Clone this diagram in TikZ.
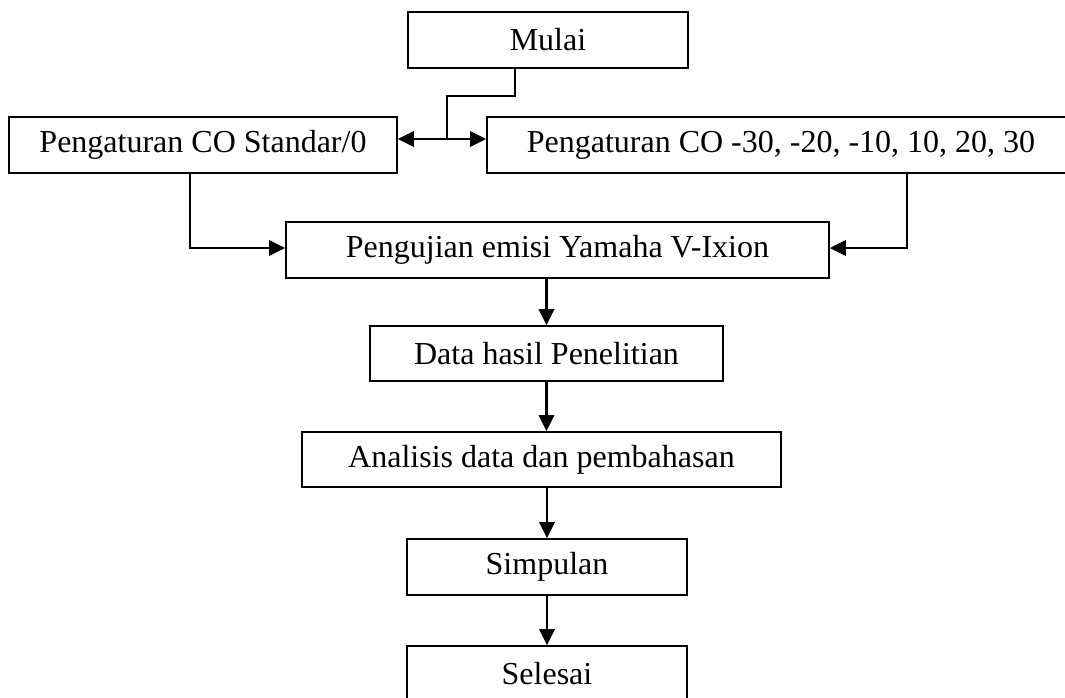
\documentclass[tikz,border=0pt]{standalone}
\usepackage{fontspec}
\setmainfont{Liberation Serif}
\usetikzlibrary{arrows.meta}

\begin{document}
\begin{tikzpicture}[x=0.75pt, y=-0.75pt,
        kotak/.style={draw, line width=1.3pt, rectangle, inner sep=0pt,
            minimum height=42pt, font=\fontsize{24}{28}\selectfont},
        panah/.style={line width=2pt, -{Triangle[length=12pt,width=11.5pt]}}]
                \clip (0,0) rectangle (1065,697);
                \node[kotak, minimum width=210pt] (mulai) at (548,40) {Mulai};
                \node[kotak, minimum width=291pt] (standar) at (203,145) {Pengaturan CO Standar/0};
                \node[kotak, minimum width=441pt] (variasi) at (781,145) {Pengaturan CO -30, -20, -10, 10, 20, 30};
                \node[kotak, minimum width=407.25pt] (uji) at (557.5,250) {Pengujian emisi Yamaha V-Ixion};
                \node[kotak, minimum width=264.75pt, minimum height=41.25pt] (data) at (546.5,353.5) {Data hasil Penelitian};
                \node[kotak, minimum width=359.25pt, minimum height=41.25pt] (analisis) at (541.5,459.5) {Analisis data dan pembahasan};
                \node[kotak, minimum width=210pt] (simpulan) at (547,567) {Simpulan};
                \node[kotak, minimum width=210pt] (selesai) at (547,674) {Selesai};
                \coordinate (cabang) at (447,139);
                \draw[line width=1.5pt] ([xshift=-24.75pt]mulai.south) -- ++(0,27) -| (cabang);
                \draw[line width=2pt, {Triangle[length=12pt,width=11.5pt]}-{Triangle[length=12pt,width=11.5pt]}]
                    (standar.east |- cabang) -- (variasi.west |- cabang);
                \draw[panah] ([xshift=-9.75pt]standar.south) |- ([yshift=1.5pt]uji.west);
                \draw[panah] ([xshift=94.5pt]variasi.south) |- ([yshift=1.5pt]uji.east);
                \draw[panah] (uji.south -| data.north) -- (data.north);
                \draw[panah] (data.south) -- (data.south |- analisis.north);
                \draw[panah] (simpulan.north |- analisis.south) -- (simpulan.north);
                \draw[panah] (simpulan.south) -- (selesai.north);
            \end{tikzpicture}
\end{document}
